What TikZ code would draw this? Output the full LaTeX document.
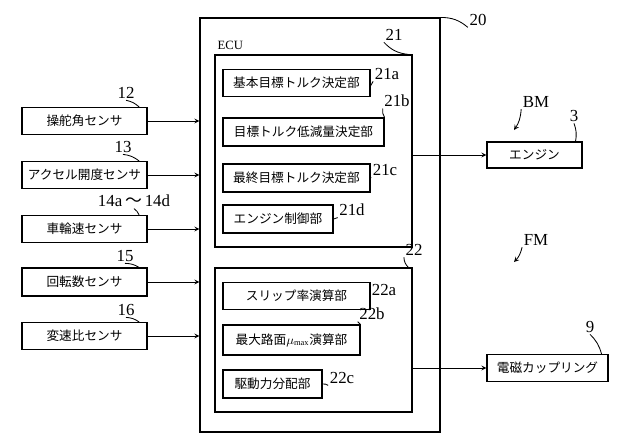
\documentclass[tikz,border=0pt]{standalone}
\usepackage{fontspec}
\setmainfont{Liberation Serif}
\newfontfamily\cjk{Noto Sans CJK JP}
\usetikzlibrary{positioning}
\tikzset{
  Blk/.style={draw,thick,inner sep=0pt,font=\cjk\small},
  Lab/.style={inner sep=1pt,font=\large},
  Lead/.style={semithick},
  Arr/.style={->,>=stealth,semithick},
}
\begin{document}
\begin{tikzpicture}[x=0.25mm,y=-0.25mm]
  \useasboundingbox (0,0) rectangle (640,446);
  % ECU
  \node[Blk,minimum width=60mm,minimum height=103.5mm](ecu)at(320,225){};
  \node[Lab,anchor=west](ecut)at(216,45){\small ECU};
  \node[Blk,minimum width=49.25mm,minimum height=48mm](b21)at(313.5,151){};
  \node[Blk,minimum width=49.25mm,minimum height=36mm](b22)at(313.5,340){};
  % boxes in 21
  \node[Blk,minimum width=36.75mm,minimum height=6.75mm](a21)at(296.5,83){基本目標トルク決定部};
  \node[Blk,minimum width=40.25mm,minimum height=7mm](b21b)at(303.5,132){目標トルク低減量決定部};
  \node[Blk,minimum width=36.75mm,minimum height=7mm](c21)at(296.5,178){最終目標トルク決定部};
  \node[Blk,minimum width=27.5mm,minimum height=7mm](d21)at(278,219){エンジン制御部};
  % boxes in 22
  \node[Blk,minimum width=36.75mm,minimum height=6.75mm](a22)at(296.5,296){スリップ率演算部};
  \node[Blk,minimum width=34.25mm,minimum height=7.5mm](b22b)at(291.5,340){最大路面$\mu_{\max}$演算部};
  \node[Blk,minimum width=24.75mm,minimum height=7mm](c22)at(272.5,384){駆動力分配部};
  % sensors
  \node[Blk,minimum width=31.25mm,minimum height=6.75mm](s12)at(84.5,121){操舵角センサ};
  \node[Blk,minimum width=31.25mm,minimum height=6.75mm](s13)at(84.5,175){アクセル開度センサ};
  \node[Blk,minimum width=31.25mm,minimum height=6.75mm](s14)at(84.5,229){車輪速センサ};
  \node[Blk,minimum width=31.25mm,minimum height=7mm](s15)at(84.5,282){回転数センサ};
  \node[Blk,minimum width=31.25mm,minimum height=6.75mm](s16)at(84.5,336){変速比センサ};
  % outputs
  \node[Blk,minimum width=23.75mm,minimum height=6.5mm](eng)at(534.5,155){エンジン};
  \node[Blk,minimum width=30.25mm,minimum height=6.75mm](emc)at(547.5,368){電磁カップリング};
  % arrows
  \foreach \s in {s12,s13,s14,s15,s16}
    \draw[Arr](\s.east)--(\s.east-|ecu.west);
  \draw[Arr](b21.east|-eng)--(eng.west);
  \draw[Arr](b22.east|-emc)--(emc.west);
  % labels
  \node[Lab](l20)at(478,20){20};
  \node[Lab](l21)at(394,35){21};
  \node[Lab](l21a)at(387,74){21a};
  \node[Lab](l21b)at(397,101){21b};
  \node[Lab](l21c)at(385,170){21c};
  \node[Lab](l21d)at(352,210){21d};
  \node[Lab](l22)at(414,250){22};
  \node[Lab](l22a)at(384,290){22a};
  \node[Lab](l22b)at(372,314){22b};
  \node[Lab](l22c)at(342,378){22c};
  \node[Lab](l12)at(126,93){12};
  \node[Lab](l13)at(123,147){13};
  \node[Lab](l14)at(134,201){14a\,\cjk〜\,\rmfamily 14d};
  \node[Lab](l15)at(125,256){15};
  \node[Lab](l16)at(126,310){16};
  \node[Lab](l3)at(574,116){3};
  \node[Lab](l9)at(590,327){9};
  \node[Lab](bm)at(536,102){BM};
  \node[Lab](fm)at(536,240){FM};
  \coordinate(bmt)at(514,130);
  \coordinate(fmt)at(514,262);
  \draw[Arr](bm.south west) to[bend left=15] (bmt);
  \draw[Arr](fm.south west) to[bend left=15] (fmt);
  % leaders
  \draw[Lead](l20.south west) to[bend right=20] (ecu.north east);
  \draw[Lead](l21.south west) to[bend right=20] ([xshift=-3pt]b21.north east);
  \draw[Lead](l21a.south west) to[bend right=20] ([yshift=-2pt]a21.east);
  \draw[Lead](l21b.south west) to[bend right=20] (b21b.north east);
  \draw[Lead](l21c.south west) to[bend right=20] (c21.east);
  \draw[Lead](l21d.south west) to[bend right=20] (d21.east);
  \draw[Lead](l22.south west) to[bend right=20] ([xshift=-3pt]b22.north east);
  \draw[Lead](l22a.south west) to[bend right=20] (a22.east);
  \draw[Lead](l22b.south west) to[bend right=20] (b22b.north east);
  \draw[Lead](l22c.south west) to[bend right=20] (c22.east);
  \draw[Lead](l12.south) to[bend left=15] ([xshift=-6pt]s12.north east);
  \draw[Lead](l13.south) to[bend left=15] ([xshift=-6pt]s13.north east);
  \draw[Lead](l14.south) to[bend left=15] ([xshift=-6pt]s14.north east);
  \draw[Lead](l15.south) to[bend left=15] ([xshift=-6pt]s15.north east);
  \draw[Lead](l16.south) to[bend left=15] ([xshift=-6pt]s16.north east);
  \draw[Lead](l3.south) to[bend left=15] ([xshift=-5pt]eng.north east);
  \draw[Lead](l9.south) to[bend left=15] ([xshift=-5pt]emc.north east);
\end{tikzpicture}
\end{document}
